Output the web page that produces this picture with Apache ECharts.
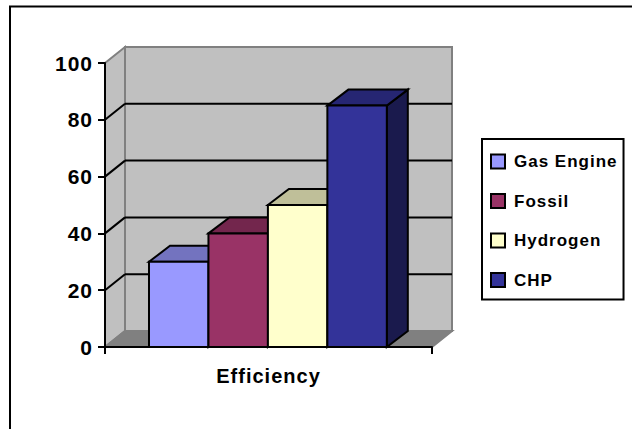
<!DOCTYPE html>
<html><head><meta charset="utf-8">
<style>
html,body{margin:0;padding:0;background:#fff;overflow:hidden}
#c{width:632px;height:429px}
#c text{letter-spacing:1px}
</style>
<script src="https://cdn.jsdelivr.net/npm/echarts@6/dist/echarts.min.js"></script>
</head><body><div id="c"></div>
<script>
const categories = ['Efficiency'];
const gasEngine = [30];
const fossil = [40];
const hydrogen = [50];
const chp = [85];
const valueTicks = [20, 40, 60, 80];
const seriesNames = ['Gas Engine', 'Fossil', 'Hydrogen', 'CHP'];
const seriesValues = [gasEngine, fossil, hydrogen, chp];
const frontColors = ['#9999FF', '#993366', '#FFFFCC', '#333399'];
const topColors = ['#7373BF', '#73264D', '#BFBF99', '#262673'];
const sideColors = ['#4D4D80', '#4D1A33', '#808066', '#1A1A4D'];

const DX = 20, DY = 16, BAR_DX = 21;
const chart = echarts.init(document.getElementById('c'), null, {renderer: 'svg'});

function poly(points, fill, stroke, lw) {
  return {type: 'polygon', shape: {points}, style: {fill, stroke, lineWidth: lw, lineJoin: 'miter'}};
}
function seg(x1, y1, x2, y2, stroke, lw) {
  return {type: 'line', shape: {x1, y1, x2, y2}, style: {stroke, lineWidth: lw}};
}
const WALL = '#C0C0C0', EDGE = '#808080';

function renderWalls(params, api) {
  const g = params.coordSys;
  const l = g.x, r = g.x + g.width, t = g.y, b = g.y + g.height;
  return {type: 'group', children: [
    poly([[l, t], [l + DX, t - DY], [l + DX, b - DY], [l, b]], WALL, EDGE, 2),
    poly([[l + DX, t - DY], [r + DX, t - DY], [r + DX, b - DY], [l + DX, b - DY]], WALL, EDGE, 2),
    poly([[l, b], [l + DX, b - DY], [r + DX, b - DY], [r, b]], EDGE, EDGE, 2)
  ]};
}
function renderGrid(params, api) {
  const g = params.coordSys;
  const y = api.coord([0, api.value(1)])[1];
  const l = g.x, r = g.x + g.width;
  return {type: 'group', children: [
    seg(l, y, l + DX, y - DY, '#000', 2),
    seg(l + DX, y - DY, r + DX, y - DY, '#000', 2)
  ]};
}
function makeBar(index) {
  return function (params, api) {
    const base = api.coord([api.value(0), 0]);
    const top = api.coord([api.value(0), api.value(1)]);
    const band = api.size([1, 0])[0];
    const w = band / 5.5;
    const x0 = base[0] - band / 2 + 0.74 * w + index * w;
    const x1 = x0 + w;
    const yb = base[1], yt = top[1];
    return {type: 'group', children: [
      poly([[x1, yt], [x1 + BAR_DX, yt - DY], [x1 + BAR_DX, yb - DY], [x1, yb]], sideColors[index], '#000', 2),
      poly([[x0, yt], [x0 + BAR_DX, yt - DY], [x1 + BAR_DX, yt - DY], [x1, yt]], topColors[index], '#000', 2),
      poly([[x0, yt], [x1, yt], [x1, yb], [x0, yb]], frontColors[index], '#000', 2)
    ]};
  };
}

const barSeries = seriesNames.map((name, i) => ({
  name, type: 'custom', z: 5,
  coordinateSystem: 'cartesian2d',
  itemStyle: {color: frontColors[i]},
  encode: {x: 0, y: 1},
  renderItem: makeBar(i),
  data: categories.map((c, k) => [k, seriesValues[i][k]])
}));

chart.setOption({
  animation: false,
  backgroundColor: '#fff',
  graphic: [{type: 'rect', z: 0, shape: {x: 10, y: 6.5, width: 640, height: 440},
    style: {fill: 'none', stroke: '#000', lineWidth: 2}}],
  grid: {left: 105, top: 63, width: 327, height: 284, containLabel: false},
  legend: {
    orient: 'vertical', left: 482, top: 139,
    padding: [14, 16, 11, 8],
    data: seriesNames, selectedMode: false,
    itemWidth: 14, itemHeight: 14, itemGap: 22.5, icon: 'rect',
    borderColor: '#000', borderWidth: 2, backgroundColor: '#fff',
    itemStyle: {borderColor: '#000', borderWidth: 2},
    textStyle: {color: '#000', fontFamily: 'Liberation Sans', fontWeight: 'bold', fontSize: 17, lineHeight: 17, padding: [0, 0, 0, 4]}
  },
  xAxis: {
    type: 'category', data: categories, z: 3,
    axisLine: {show: true, lineStyle: {color: '#000', width: 2}},
    axisTick: {show: true, length: 7, alignWithLabel: false, lineStyle: {color: '#000', width: 2}},
    axisLabel: {color: '#000', fontFamily: 'Liberation Sans', fontWeight: 'bold', fontSize: 20, margin: 19}
  },
  yAxis: {
    type: 'value', min: 0, max: 100, interval: 20, z: 3,
    axisLine: {show: true, lineStyle: {color: '#000', width: 2}},
    axisTick: {show: true, length: 7, lineStyle: {color: '#000', width: 2}},
    axisLabel: {color: '#000', fontFamily: 'Liberation Sans', fontWeight: 'bold', fontSize: 21, margin: 12},
    splitLine: {show: false}
  },
  series: [
    {type: 'custom', name: 'walls', z: 1, coordinateSystem: 'cartesian2d', renderItem: renderWalls,
     encode: {x: 0, y: 1}, data: [[0, 0]], silent: true},
    {type: 'custom', name: 'gridlines', z: 2, coordinateSystem: 'cartesian2d', renderItem: renderGrid,
     encode: {x: 0, y: 1}, data: valueTicks.map(v => [0, v]), silent: true},
    ...barSeries
  ]
});
</script></body></html>
